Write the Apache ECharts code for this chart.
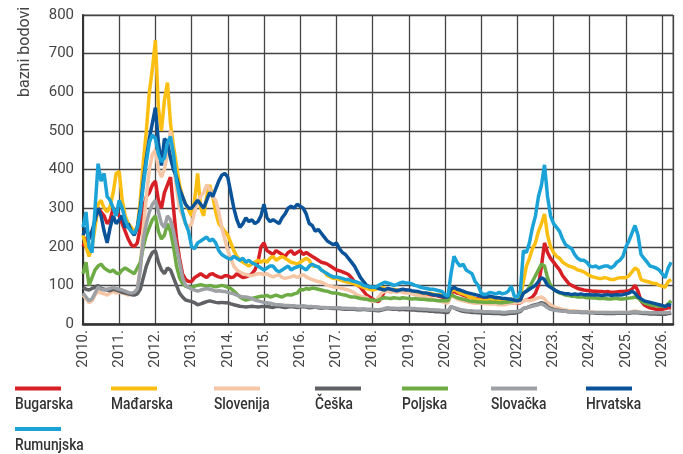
<!DOCTYPE html>
<html><head><meta charset="utf-8">
<script src="https://cdn.jsdelivr.net/npm/echarts@6/dist/echarts.min.js"></script>
<style>html,body{margin:0;padding:0;background:#fff}#c{width:683px;height:454px}</style>
</head><body><div id="c"></div>
<script>
// Monthly values, first value = January 2010, last = April 2026
const startYear = 2010;
const seriesNames = ['Bugarska','Mađarska','Slovenija','Češka','Poljska','Slovačka','Hrvatska','Rumunjska'];
const seriesColors = ['#d71f26','#fbbf14','#f5c6a6','#5f6164','#6dab45','#9da0a4','#0a5399','#1ba2d6'];
const yTicks = [0,100,200,300,400,500,600,700,800];
const xTicks = [2010,2011,2012,2013,2014,2015,2016,2017,2018,2019,2020,2021,2022,2023,2024,2025,2026];

const bugarska = [
200,220,230,240,260,300,290,280,260,270,300,290,
280,260,240,220,205,200,210,250,300,330,340,360,
370,320,300,340,360,380,300,220,170,130,115,110,
110,120,125,130,125,120,128,130,125,122,120,125,
125,120,122,130,125,120,122,125,130,140,160,200,
210,190,185,180,190,185,180,175,185,190,180,185,
190,180,185,180,175,170,165,160,158,155,150,145,
140,138,135,132,128,120,110,100,95,85,75,70,
65,60,58,70,85,90,88,86,88,85,86,88,
86,84,82,80,80,78,78,76,75,74,72,70,
68,66,80,85,80,78,75,72,70,68,66,65,
64,63,62,62,60,60,58,58,56,55,55,54,
54,55,60,62,65,70,80,100,150,210,185,170,
160,150,140,125,115,105,100,96,92,90,88,87,
86,85,85,84,84,83,84,82,82,83,84,84,
85,86,90,100,85,60,50,45,42,40,38,38,
38,40,42,42];

const madarska = [
230,200,175,200,250,310,320,300,290,305,340,390,
395,320,280,260,250,240,250,320,420,500,600,660,
735,560,500,580,625,520,460,410,360,330,310,295,
280,320,390,300,280,330,360,330,290,260,250,240,
230,210,190,175,165,160,155,150,155,160,165,160,
165,160,170,175,165,170,175,170,165,160,158,155,
160,165,170,165,150,150,148,140,135,125,122,118,
118,115,112,110,108,106,104,100,98,95,92,90,
88,90,92,95,92,90,88,90,88,86,88,86,
85,84,83,82,80,80,78,80,78,76,76,75,
74,72,85,90,85,80,78,75,70,68,65,62,
62,60,62,65,63,62,60,62,60,62,65,60,
60,70,110,150,170,195,210,240,260,285,230,200,
185,175,170,160,155,150,148,145,140,138,135,130,
125,122,120,118,118,120,118,115,115,118,120,120,
120,125,135,145,140,115,112,110,108,105,105,100,
98,95,110,115];

const slovenija = [
75,65,55,60,75,85,80,78,75,80,85,80,
82,80,78,75,78,80,90,150,250,330,400,440,
450,400,380,400,440,500,420,350,300,280,260,250,
260,290,320,330,340,360,350,330,320,290,250,220,
190,170,150,140,135,130,128,126,125,128,130,130,
128,130,125,122,125,128,120,118,120,122,125,120,
125,128,122,118,115,112,110,108,105,100,98,96,
95,94,92,90,88,85,80,75,72,70,68,62,
58,60,70,80,85,85,82,84,82,84,82,80,
80,78,76,74,72,70,68,66,64,62,60,58,
55,54,75,70,65,62,60,58,56,55,54,54,
54,53,52,52,52,51,50,50,50,52,55,54,
55,56,60,62,60,62,65,68,70,65,55,50,
45,42,40,38,36,35,34,34,33,32,32,32,
32,31,30,30,30,30,30,29,29,30,30,30,
30,30,32,34,32,30,29,28,28,27,27,26,
26,26,28,28];

const ceska = [
95,90,88,92,95,100,92,90,88,86,90,88,
85,82,80,78,76,75,78,90,120,150,170,185,
190,160,140,130,145,140,120,100,80,70,62,60,
58,55,50,52,55,58,60,58,56,55,56,55,
55,52,50,48,46,45,44,45,46,45,44,45,
45,46,44,43,45,46,44,43,44,45,44,43,
44,45,44,42,43,44,42,41,42,42,41,40,
40,40,39,38,38,39,38,37,37,38,37,36,
36,35,34,36,38,40,39,38,38,37,38,37,
37,36,36,35,35,34,34,33,33,32,32,31,
30,30,45,42,38,35,33,32,31,30,30,29,
29,28,28,28,27,27,27,26,26,27,28,28,
30,32,40,42,45,48,50,52,55,52,45,40,
38,36,35,34,33,32,32,31,31,30,30,30,
29,29,28,28,28,27,27,27,27,28,28,28,
28,28,29,30,29,28,27,27,26,26,26,25,
25,25,27,28];

const poljska = [
130,160,100,120,140,150,155,145,140,135,140,132,
130,140,145,140,135,130,145,160,200,230,250,270,
280,240,220,230,260,240,200,150,120,105,98,95,
95,98,100,102,100,98,100,98,96,98,100,98,
95,92,85,78,70,65,62,64,66,68,70,72,
72,74,70,72,75,72,70,74,76,75,78,80,
90,88,92,90,93,92,90,88,86,85,82,80,
80,78,76,75,72,70,70,68,66,65,64,62,
62,60,62,66,68,67,66,68,67,66,68,67,
66,65,66,65,64,64,63,62,62,61,60,60,
60,60,76,72,68,66,64,62,60,58,58,57,
57,56,56,57,56,56,55,55,56,57,58,60,
62,66,80,85,95,110,125,140,155,150,120,100,
90,85,80,78,75,74,72,72,70,70,70,68,
68,67,67,66,66,66,65,65,66,66,65,65,
66,67,68,70,68,60,55,52,50,48,48,46,
46,45,52,60];

const slovacka = [
80,70,60,65,80,95,90,88,90,92,95,92,
90,88,85,82,80,82,90,140,220,260,290,310,
320,290,260,250,280,270,240,200,160,120,100,95,
90,88,85,88,90,92,90,88,85,86,85,84,
82,80,78,75,72,70,70,68,66,62,60,58,
56,55,54,52,50,50,49,48,48,47,47,46,
46,47,46,45,45,44,44,43,43,42,42,42,
42,42,41,41,40,40,40,39,39,39,38,38,
38,37,37,38,40,42,41,41,40,40,41,41,
41,40,40,39,39,38,38,37,37,36,36,35,
35,34,45,42,40,38,36,35,34,34,33,33,
33,32,32,32,31,31,31,30,30,31,32,32,
33,35,40,42,44,46,48,50,52,48,42,38,
36,35,34,33,33,32,32,32,31,31,31,31,
30,30,30,30,30,30,30,30,30,30,30,30,
30,30,31,32,31,30,30,30,29,29,29,29,
29,29,30,31];

const hrvatska = [
230,250,220,240,270,300,280,240,210,250,280,260,
270,280,250,260,240,230,250,300,370,430,480,520,
560,470,410,480,470,430,400,380,350,330,310,300,
300,310,320,310,300,320,340,330,350,370,385,390,
380,340,300,270,250,260,275,265,270,260,265,280,
310,275,265,270,265,260,275,285,300,305,300,310,
305,300,285,260,255,240,245,235,225,215,210,205,
210,195,185,180,170,160,150,135,120,110,100,96,
96,95,92,90,88,92,90,88,86,88,90,88,
88,86,85,84,82,80,80,78,76,75,74,72,
70,70,90,95,90,88,85,82,80,78,76,74,
72,70,70,72,70,68,68,66,66,65,64,62,
60,62,80,85,90,95,100,110,120,115,100,95,
90,85,82,80,78,78,76,78,76,78,76,76,
76,75,76,75,74,75,76,74,75,76,75,76,
78,80,85,80,70,65,60,58,56,54,52,50,
48,45,50,48];

const rumunjska = [
250,290,200,185,300,415,370,390,330,320,300,280,
320,300,270,250,240,235,250,290,360,420,470,490,
480,440,420,430,470,485,440,370,330,290,260,240,
200,195,210,215,220,225,215,220,210,190,180,175,
170,168,175,170,165,170,160,165,158,155,150,145,
140,145,150,150,140,135,140,145,150,140,145,148,
150,145,140,150,155,150,148,140,135,130,125,122,
122,120,118,115,115,112,110,108,105,100,98,96,
96,95,100,104,108,106,104,100,102,106,108,106,
106,104,100,98,95,93,92,90,90,88,86,84,
76,72,130,175,160,150,155,140,135,130,110,100,
80,76,78,82,80,78,82,78,80,85,98,72,
70,85,190,185,210,250,280,330,360,412,330,280,
260,250,240,220,205,200,195,180,170,165,165,160,
150,148,150,145,148,150,150,145,150,160,165,175,
200,215,235,255,230,180,170,160,150,148,145,140,
130,120,145,160];

const allValues = [bugarska, madarska, slovenija, ceska, poljska, slovacka, hrvatska, rumunjska];
const legendLeft = [15, 111, 214, 315, 402, 491, 586, 15];
const legendRowY = [386.5, 386.5, 386.5, 386.5, 386.5, 386.5, 386.5, 427];

const toPairs = vals => vals.map((v, i) => [startYear + i / 12, v]);

const chart = echarts.init(document.getElementById('c'), null, {renderer: 'canvas'});
const labelFont = 'Roboto, "Open Sans", sans-serif';

const legendGraphics = [];
seriesNames.forEach((n, i) => {
  legendGraphics.push({
    type: 'rect', x: legendLeft[i], y: legendRowY[i], silent: true,
    shape: {x: 0, y: 0, width: 46, height: 4},
    style: {fill: seriesColors[i]}
  });
  legendGraphics.push({
    type: 'text', x: legendLeft[i], y: legendRowY[i] + 18.5, scaleX: 0.86, silent: true,
    style: {text: n, fill: '#333', font: '500 16px Roboto, sans-serif', textAlign: 'left', textVerticalAlign: 'middle'}
  });
});

chart.setOption({
  animation: false,
  backgroundColor: '#fff',
  grid: {left: 83, top: 15, width: 590, height: 309, show: true, borderColor: '#666', borderWidth: 1, containLabel: false},
  xAxis: {
    type: 'value', min: xTicks[0], max: 2026.3, interval: 1,
    axisLine: {show: true, lineStyle: {color: '#333', width: 2.5}},
    axisTick: {show: false},
    splitLine: {show: true, lineStyle: {color: '#444', width: 1.3}},
    axisLabel: {rotate: 90, margin: 6, color: '#444', fontSize: 15, fontFamily: labelFont,
      formatter: v => xTicks.includes(Math.round(v * 1000) / 1000) ? v + '.' : ''},
    showMaxLabel: false
  },
  yAxis: {
    type: 'value', min: yTicks[0], max: yTicks[yTicks.length - 1], interval: 100,
    axisLine: {show: true, lineStyle: {color: '#333', width: 2}},
    axisTick: {show: false},
    splitLine: {show: true, lineStyle: {color: '#444', width: 1.3}},
    axisLabel: {margin: 9, color: '#444', fontSize: 15, fontFamily: labelFont}
  },
  legend: {show: false, data: seriesNames},
  graphic: [{
    type: 'text', x: 25, y: 52, rotation: Math.PI / 2, silent: true,
    style: {text: 'bazni bodovi', fill: '#444', font: '16px ' + labelFont, textAlign: 'center', textVerticalAlign: 'middle'}
  }].concat(legendGraphics),
  series: seriesNames.map((n, i) => ({
    name: n, type: 'line', data: toPairs(allValues[i]),
    showSymbol: false, symbol: 'none',
    lineStyle: {color: seriesColors[i], width: 3.5},
    itemStyle: {color: seriesColors[i]},
    z: 2 + i
  }))
});
</script></body></html>
